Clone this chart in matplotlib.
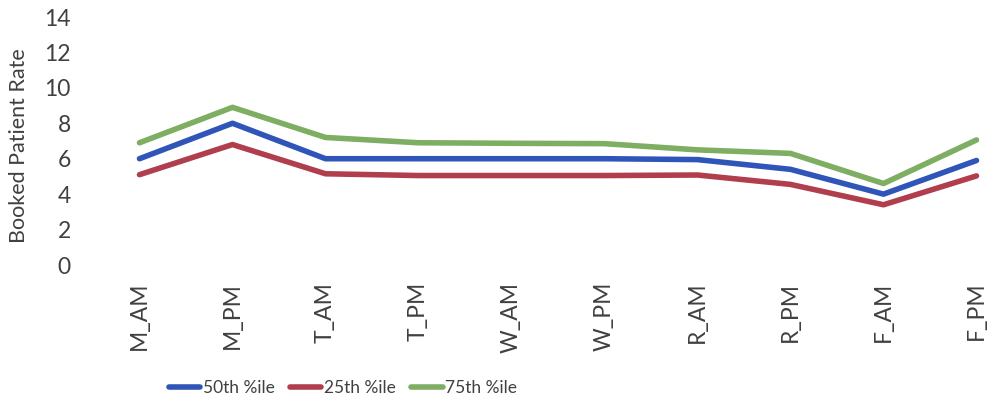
import matplotlib
matplotlib.use("Agg")
import matplotlib.pyplot as plt

# booked patient rate per clinic session
sessions = ["M_AM", "M_PM", "T_AM", "T_PM", "W_AM", "W_PM", "R_AM", "R_PM", "F_AM", "F_PM"]
p50 = [6.0, 8.0, 6.0, 6.0, 6.0, 6.0, 5.95, 5.4, 4.0, 5.9]
p25 = [5.1, 6.8, 5.15, 5.05, 5.05, 5.05, 5.08, 4.55, 3.4, 5.03]
p75 = [6.9, 8.9, 7.2, 6.9, 6.87, 6.85, 6.5, 6.3, 4.6, 7.06]

plt.rcParams['font.family'] = ['Lato', 'DejaVu Sans']
txt = '#404040'

fig = plt.figure(figsize=(9.93, 4.03), dpi=100)
# plot area runs a little past the right edge of the figure
ax = fig.add_axes([93 / 993, 1 - 265 / 403, 930 / 993, 248 / 403])

x = list(range(len(sessions)))
ax.plot(x, p50, color='#2F55B8', lw=4, solid_capstyle='round', label='50th %ile')
ax.plot(x, p25, color='#B03E4C', lw=4, solid_capstyle='round', label='25th %ile')
ax.plot(x, p75, color='#7DAE62', lw=4, solid_capstyle='round', label='75th %ile')

ax.set_xlim(-0.5, len(sessions) - 0.5)
ax.set_ylim(0, 14)
ax.set_yticks(range(0, 15, 2))
ax.set_xticks(x)
ax.set_xticklabels(sessions, rotation=90)
ax.tick_params(axis='y', length=0, pad=16, labelsize=16.5, labelcolor=txt)
ax.tick_params(axis='x', length=0, pad=12, labelsize=16.5, labelcolor=txt)
for s in ax.spines.values():
    s.set_visible(False)

fig.text(19 / 993, 1 - 146 / 403, 'Booked Patient Rate', rotation=90,
         ha='center', va='center', fontsize=15.5, color=txt)

fig.legend(loc='center', bbox_to_anchor=(343 / 993, 1 - 388 / 403), ncol=3,
           frameon=False, fontsize=12.5, handlelength=1.8, handletextpad=0.15,
           columnspacing=0.9, labelcolor=txt)

fig.savefig('out.png', dpi=100)
